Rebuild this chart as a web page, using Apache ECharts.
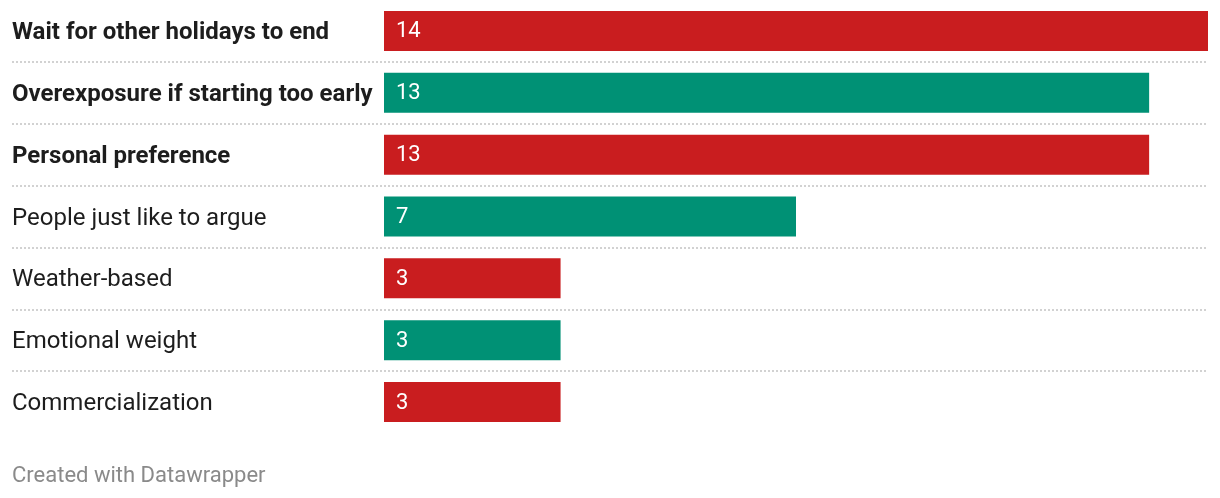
<!DOCTYPE html>
<html>
<head>
<meta charset="utf-8">
<script src="https://cdn.jsdelivr.net/npm/echarts@6/dist/echarts.min.js"></script>
<style>
  html, body { margin: 0; padding: 0; background: #fff; }
  #chart { width: 1220px; height: 498px; }
</style>
</head>
<body>
<div id="chart"></div>
<script>
const categories = [
  "Wait for other holidays to end",
  "Overexposure if starting too early",
  "Personal preference",
  "People just like to argue",
  "Weather-based",
  "Emotional weight",
  "Commercialization"
];
const values = [14, 13, 13, 7, 3, 3, 3];
const groups = ["red", "green", "red", "green", "red", "green", "red"];
const boldRows = [true, true, true, false, false, false, false];
const footerText = "Created with Datawrapper";

const palette = { red: "#c91d1f", green: "#009175" };
const FONT = "Roboto, 'Noto Sans', sans-serif";

const chart = echarts.init(document.getElementById("chart"), null, { renderer: "canvas" });

chart.setOption({
  animation: false,
  grid: [
    { left: 12, right: 12, top: -1, height: 434, containLabel: false },
    { left: 384, right: 12, top: -1, height: 434, containLabel: false }
  ],
  xAxis: [
    { gridIndex: 0, type: "value", min: 0, max: 1, show: false },
    { gridIndex: 1, type: "value", min: 0, max: 14, show: false }
  ],
  yAxis: [
    {
      gridIndex: 0,
      type: "category",
      data: categories,
      inverse: true,
      axisLine: { show: false },
      axisTick: { show: false },
      splitLine: {
        show: true,
        showMinLine: false,
        showMaxLine: false,
        lineStyle: { color: "#d2d2d2", width: 2, type: [2, 2] }
      },
      axisLabel: {
        inside: true,
        align: "left",
        margin: 0,
        formatter: (v, i) => boldRows[i] ? "{b|" + v + "}" : "{n|" + v + "}",
        rich: {
          b: { fontFamily: FONT, fontSize: 24, fontWeight: "bold", color: "#1d1d1d", padding: [4, 0, 0, 0] },
          n: { fontFamily: FONT, fontSize: 24, fontWeight: "normal", color: "#1d1d1d", padding: [4, 0, 0, 0] }
        }
      }
    },
    {
      gridIndex: 1,
      type: "category",
      data: categories,
      inverse: true,
      show: false
    }
  ],
  series: [
    {
      type: "bar",
      xAxisIndex: 1,
      yAxisIndex: 1,
      barWidth: 40,
      data: values.map((v, i) => ({ value: v, itemStyle: { color: palette[groups[i]] } })),
      label: {
        show: true,
        position: "insideLeft",
        distance: 12,
        offset: [0, 1],
        color: "#ffffff",
        fontFamily: FONT,
        fontSize: 22
      }
    }
  ],
  graphic: [
    {
      type: "text",
      x: 12,
      y: 476,
      style: { text: footerText, fill: "#8a8a8a", font: "22px " + FONT, verticalAlign: "middle", align: "left" }
    }
  ]
});
</script>
</body>
</html>
